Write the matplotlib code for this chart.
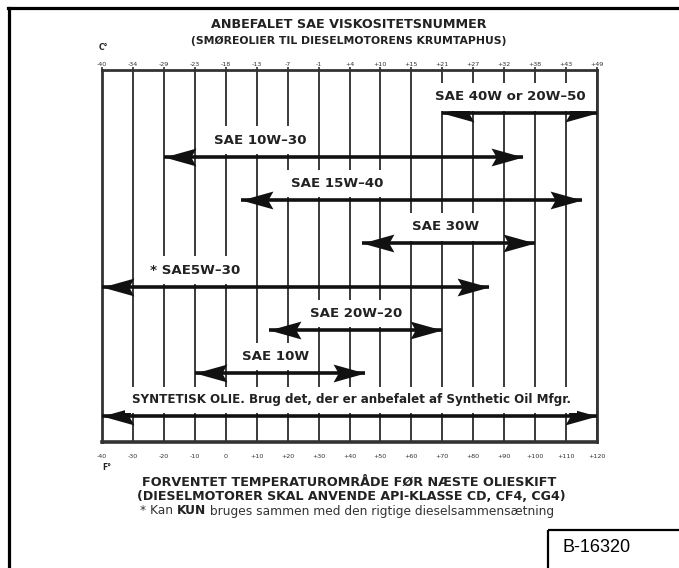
import numpy as np
import matplotlib
matplotlib.use('agg')
import matplotlib.pyplot as plt
from matplotlib.path import Path
from matplotlib.lines import Line2D
from matplotlib.patches import Rectangle

# temperature scale (deg F at the bottom, deg C at the top)
f_ticks = [-40, -30, -20, -10, 0, 10, 20, 30, 40, 50, 60, 70, 80, 90, 100, 110, 120]
f_labels = ['-40', '-30', '-20', '-10', '0', '+10', '+20', '+30', '+40', '+50',
            '+60', '+70', '+80', '+90', '+100', '+110', '+120']
c_labels = ['-40', '-34', '-29', '-23', '-18', '-13', '-7', '-1', '+4', '+10',
            '+15', '+21', '+27', '+32', '+38', '+43', '+49']

# oil grades and their temperature range (deg F)
grades = ['SAE 40W or 20W\u201350', 'SAE 10W\u201330', 'SAE 15W\u201340', 'SAE 30W',
          '* SAE5W\u201330', 'SAE 20W\u201320', 'SAE 10W',
          'SYNTETISK OLIE. Brug det, der er anbefalet af Synthetic Oil Mfgr.']
range_lo = [70, -20, 5, 44, -40, 14, -10, -40]
range_hi = [120, 96, 115, 100, 85, 70, 45, 120]
label_x = [92, 11, 36, 71, -10, 42, 16, 40.5]

W, H = 679, 568
fig = plt.figure(figsize=(W / 100, H / 100), dpi=100)
fig.set_facecolor('white')

# page frame / text layer in pixel units
bg = fig.add_axes([0, 0, 1, 1])
bg.set_xlim(0, W)
bg.set_ylim(H, 0)
bg.axis('off')
bg.add_line(Line2D([8.5, 8.5], [7.5, H + 5], color='black', lw=2.3))
bg.add_line(Line2D([7.5, W + 5], [7.5, 7.5], color='black', lw=2.3))
bg.add_patch(Rectangle((548, 529.5), 200, 100, fill=False, ec='black', lw=1.6))
bg.text(597, 548, 'B-16320', fontsize=13, family='Liberation Sans', ha='center', va='center')

bold = dict(family='DejaVu Sans', weight='bold', color='#222222', ha='center', va='center')
bg.text(349, 25, 'ANBEFALET SAE VISKOSITETSNUMMER', fontsize=9.2, **bold)
bg.text(349, 41, '(SMØREOLIER TIL DIESELMOTORENS KRUMTAPHUS)', fontsize=7.8, **bold)
bg.text(103, 47, 'C\u00b0', fontsize=5.5, **bold)
bg.text(107, 467, 'F\u00b0', fontsize=5.5, **bold)
bg.text(349, 482, 'FORVENTET TEMPERATUROMRÅDE FØR NÆSTE OLIESKIFT', fontsize=9.2, **bold)
bg.text(351, 497, '(DIESELMOTORER SKAL ANVENDE API-KLASSE CD, CF4, CG4)', fontsize=9.1, **bold)
t1 = bg.text(140, 511, '* Kan ', fontsize=8.8, family='DejaVu Sans', color='#333333', va='center')
t2 = bg.annotate('KUN', xy=(1, 0), xycoords=t1, va='bottom', fontsize=8.8,
                 family='DejaVu Sans', weight='bold', color='#222222')
bg.annotate(' bruges sammen med den rigtige dieselsammensætning', xy=(1, 0), xycoords=t2,
            va='bottom', fontsize=8.8, family='DejaVu Sans', color='#333333')

# chart
x0, x1, y0, y1 = 102, 597, 70, 442
ax = fig.add_axes([x0 / W, 1 - y1 / H, (x1 - x0) / W, (y1 - y0) / H])
ax.set_xlim(-40, 120)
row_h = 43.3
ax.set_ylim((y1 - y0) / row_h, 0)
ax.set_yticks([])
ax.set_xticks(f_ticks, labels=f_labels)
ax.tick_params(axis='x', length=0, pad=9, labelsize=4.6, labelcolor='#333333')
ax.grid(axis='x', color='#3a3a3a', lw=1.4)
ax.set_axisbelow(True)
for s in ax.spines.values():
    s.set_color('#333333')
    s.set_linewidth(2.0)
ax.spines['bottom'].set_linewidth(2.6)

top = ax.secondary_xaxis('top')
top.set_xticks(f_ticks, labels=c_labels)
top.tick_params(length=2, width=1.2, color='#333333', pad=0.5, labelsize=4.6, labelcolor='#333333')
top.spines['top'].set_visible(False)

# barbed arrow heads
head_r = Path([(0, 0), (-1, 0.28), (-0.84, 0), (-1, -0.28), (0, 0)],
              [Path.MOVETO, Path.LINETO, Path.LINETO, Path.LINETO, Path.CLOSEPOLY])
head_l = Path([(0, 0), (1, 0.28), (0.84, 0), (1, -0.28), (0, 0)],
              [Path.MOVETO, Path.LINETO, Path.LINETO, Path.LINETO, Path.CLOSEPOLY])

for i, name in enumerate(grades):
    y = i + 1
    ax.plot([range_lo[i], range_hi[i]], [y, y], color='#111111', lw=2.6,
            solid_capstyle='butt', zorder=3)
    ax.plot(range_lo[i], y, marker=head_l, ms=46, color='#111111', mew=0, zorder=4)
    ax.plot(range_hi[i], y, marker=head_r, ms=46, color='#111111', mew=0, zorder=4)
    fs = 8.6 if i == len(grades) - 1 else 9.6
    ax.text(label_x[i], y - 0.38, name, fontsize=fs, family='DejaVu Sans', weight='bold',
            color='#222222', ha='center', va='center', zorder=5,
            bbox=dict(boxstyle='square,pad=0.55', fc='white', ec='none'))

plt.savefig('out.png', dpi=100)
